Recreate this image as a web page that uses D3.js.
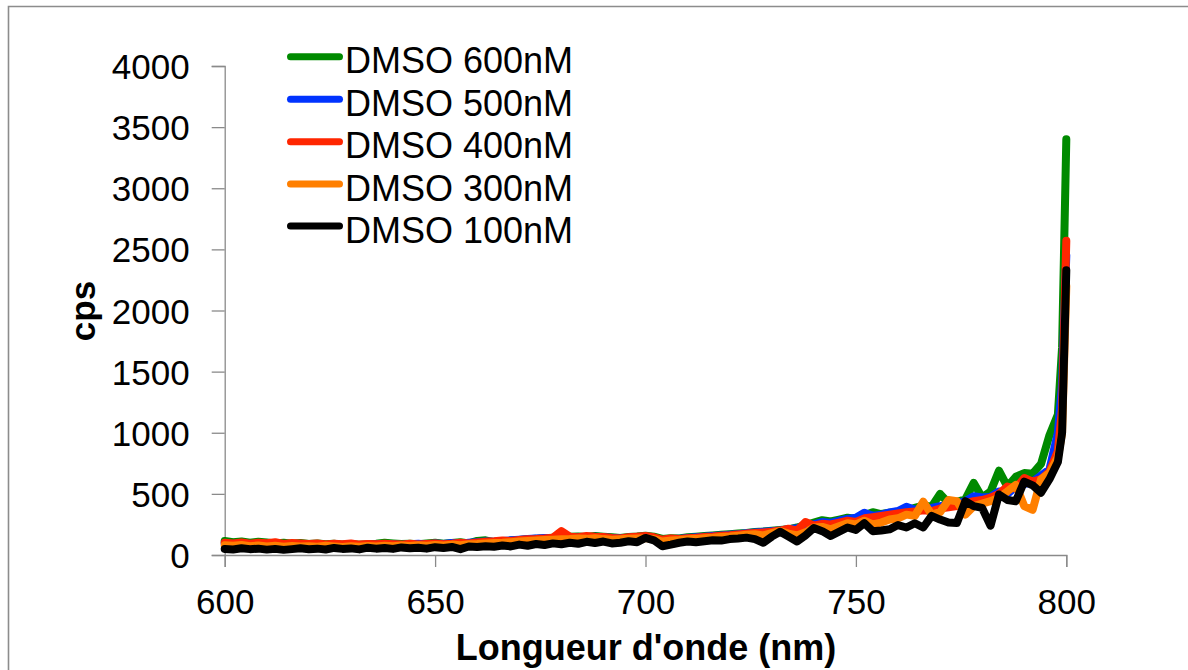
<!DOCTYPE html>
<html>
<head>
<meta charset="utf-8">
<script src="https://cdn.jsdelivr.net/npm/d3@7"></script>
<style>
html,body{margin:0;padding:0;background:#fff;}
svg{display:block;}
text{font-family:"Liberation Sans",Arial,Helvetica,sans-serif;fill:#000;}
</style>
</head>
<body>
<svg id="chart" width="1188" height="670"></svg>
<script>
// wavelength grid (nm), 2 nm steps, plus 799 near the edge
const wavelengths = [600,602,604,606,608,610,612,614,616,618,620,622,624,626,628,630,632,634,636,638,640,642,644,646,648,650,652,654,656,658,660,662,664,666,668,670,672,674,676,678,680,682,684,686,688,690,692,694,696,698,700,702,704,706,708,710,712,714,716,718,720,722,724,726,728,730,732,734,736,738,740,742,744,746,748,750,752,754,756,758,760,762,764,766,768,770,772,774,776,778,780,782,784,786,788,790,792,794,796,798,799,800];

const seriesNames = ["DMSO 600nM","DMSO 500nM","DMSO 400nM","DMSO 300nM","DMSO 100nM"];
const seriesColors = ["#008a00","#0033ff","#ff2600","#ff7f00","#000000"];

const dmso600 = [115,105,110,100,108,102,95,100,92,98,
  90,95,88,92,85,90,84,88,92,100,
  95,90,92,88,95,100,92,98,105,95,
  115,120,105,110,118,122,128,132,138,142,
  145,150,152,148,155,150,145,140,148,152,
  158,150,132,138,135,145,150,155,160,165,
  170,175,180,188,192,198,205,210,225,245,
  265,285,275,290,305,295,325,350,335,345,
  355,365,385,405,395,500,425,435,455,590,
  470,520,690,560,640,670,665,745,980,1150,1700,
  3400];
const dmso500 = [95,90,98,88,92,85,90,82,88,85,
  80,85,78,82,80,84,78,82,85,88,
  85,82,88,92,86,95,90,98,92,100,
  105,110,108,115,120,125,130,135,140,138,
  142,138,145,140,150,145,140,135,142,148,
  150,140,120,128,132,140,145,150,155,160,
  165,170,178,185,190,195,200,210,220,235,
  250,270,262,280,295,305,345,320,330,348,
  360,395,370,380,385,400,410,420,440,480,
  470,475,520,500,560,580,600,650,700,1000,1400,
  2450];
const dmso400 = [100,95,102,92,100,96,104,90,98,94,
  90,94,86,92,88,95,85,90,88,92,
  88,85,92,86,90,95,88,92,100,95,
  102,108,112,118,115,122,128,130,135,142,
  196,150,145,155,150,148,140,135,145,150,
  155,145,125,135,130,138,142,148,152,158,
  162,168,175,180,185,190,200,215,200,270,
  240,255,250,265,280,270,300,310,320,330,
  340,350,355,365,360,380,390,400,420,440,
  450,470,500,560,545,630,600,620,680,850,1200,
  2570];
const dmso300 = [80,75,82,72,78,70,76,68,74,70,
  72,68,75,70,66,72,68,74,70,76,
  72,78,74,80,76,82,78,85,80,88,
  90,95,98,100,105,110,115,118,122,125,
  128,130,135,132,138,130,125,128,132,135,
  138,130,110,118,122,128,132,138,142,148,
  152,158,165,170,160,178,195,175,160,185,
  225,230,210,235,260,250,280,250,265,290,
  300,330,320,436,330,350,450,440,330,400,
  420,440,470,520,573,400,370,620,670,800,1000,
  2200];
const dmso100 = [50,45,55,48,52,44,50,42,48,55,
  47,52,45,58,50,54,46,60,52,57,
  50,62,55,60,52,64,58,66,48,70,
  65,72,68,78,70,85,76,90,82,95,
  88,100,92,108,98,110,95,100,112,105,
  140,120,72,85,100,110,105,112,120,118,
  130,135,142,130,100,150,190,150,110,160,
  220,195,155,190,225,205,260,195,200,210,
  245,225,260,225,320,290,265,262,440,400,
  385,240,495,450,440,600,570,510,620,760,1000,
  2330];

const xTicks = [600,650,700,750,800];
const yTicks = [0,500,1000,1500,2000,2500,3000,3500,4000];
const xTitle = "Longueur d'onde (nm)";
const yTitle = "cps";

const seriesValues = [dmso600, dmso500, dmso400, dmso300, dmso100];

const svg = d3.select("#chart");
const x = d3.scaleLinear().domain([600,800]).range([224.7,1066.3]);
const y = d3.scaleLinear().domain([0,4000]).range([555,66]);
const axisColor = "#8a8a8a";

// outer frame (top & left)
svg.append("path").attr("d","M8.5,670 V6.5 H1188")
  .attr("fill","none").attr("stroke","#8c8c8c").attr("stroke-width",1.6);

// y axis
const gy = svg.append("g").attr("transform",`translate(${x(600)},0)`)
  .call(d3.axisLeft(y).tickValues(yTicks).tickSize(13).tickPadding(22).tickFormat(d3.format("d")));
gy.select(".domain").attr("stroke",axisColor).attr("stroke-width",1.3);
gy.selectAll(".tick line").attr("stroke",axisColor).attr("stroke-width",1.3);
gy.selectAll(".tick text").attr("font-size",35).attr("font-family","Liberation Sans, Arial, sans-serif").attr("fill","#000").attr("dy","0.36em");

// x axis
const gx = svg.append("g").attr("transform",`translate(0,${y(0)})`)
  .call(d3.axisBottom(x).tickValues(xTicks).tickSize(12).tickPadding(22).tickFormat(d3.format("d")));
gx.select(".domain").attr("stroke",axisColor).attr("stroke-width",1.3);
gx.selectAll(".tick line").attr("stroke",axisColor).attr("stroke-width",1.3);
gx.selectAll(".tick text").attr("font-size",35).attr("font-family","Liberation Sans, Arial, sans-serif").attr("fill","#000").attr("dy","0.71em");

// axis titles
svg.append("text").attr("x",646).attr("y",660).attr("text-anchor","middle")
  .attr("font-size",36).attr("font-weight","bold").text(xTitle);
svg.append("text").attr("transform","translate(95,311) rotate(-90)").attr("text-anchor","middle")
  .attr("font-size",35).attr("font-weight","bold").text(yTitle);

// series lines
const line = d3.line().x((d,i)=>x(wavelengths[i])).y(d=>y(d));
seriesValues.forEach((vals,k)=>{
  svg.append("path").datum(vals).attr("d",line)
    .attr("fill","none").attr("stroke",seriesColors[k]).attr("stroke-width",8)
    .attr("stroke-linejoin","round").attr("stroke-linecap","round");
});

// legend
const legY = [56.7,99.3,141.7,184,226];
seriesNames.forEach((name,k)=>{
  svg.append("line").attr("x1",290.5).attr("x2",339.5).attr("y1",legY[k]).attr("y2",legY[k])
    .attr("stroke",seriesColors[k]).attr("stroke-width",7).attr("stroke-linecap","round");
  svg.append("text").attr("x",345).attr("y",legY[k]+16.6).attr("font-size",36).text(name);
});
</script>
</body>
</html>
